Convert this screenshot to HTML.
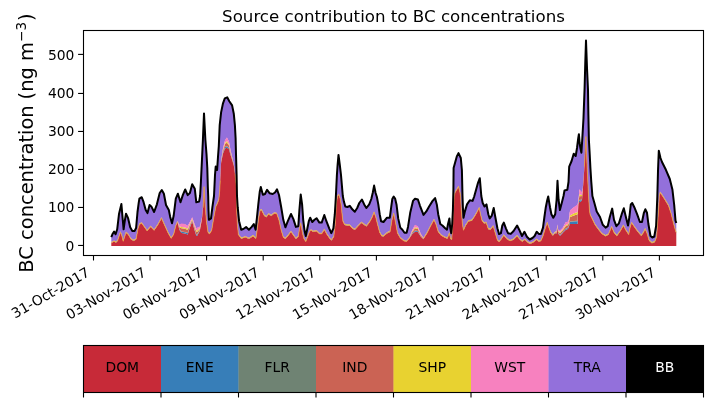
<!DOCTYPE html>
<html><head><meta charset="utf-8"><title>Source contribution to BC concentrations</title>
<style>
html,body{margin:0;padding:0;background:#fff;}
svg{display:block;}
text{font-family:"DejaVu Sans","Liberation Sans",sans-serif;fill:#000;}
.t10{font-size:13.89px;}
.t12{font-size:16.67px;}
.t14{font-size:19.44px;}
</style></head><body>
<svg width="713" height="402" viewBox="0 0 713 402">
<rect width="713" height="402" fill="#fff"/>
<polygon fill="#9370db" points="111.3,237.2 112.7,233.7 114.1,231.6 115.6,234.2 116.0,233.0 117.2,229.3 117.6,225.9 119.0,214.0 120.4,208.2 121.4,204.0 121.8,208.7 122.6,218.0 123.2,224.8 123.6,229.3 124.6,222.0 126.0,213.7 128.1,218.2 130.2,227.3 131.0,228.7 132.3,230.9 133.8,231.0 134.5,231.1 136.1,228.0 137.5,212.0 138.0,208.2 138.7,202.8 139.4,198.6 141.5,197.3 141.7,197.2 143.6,202.2 145.7,209.9 147.1,212.4 147.5,213.1 149.6,205.0 150.6,205.8 151.3,206.4 154.1,212.0 156.9,204.3 157.6,201.5 159.7,193.0 161.5,190.4 161.8,190.0 163.9,193.7 164.6,197.5 166.0,205.0 168.1,208.7 168.8,209.9 170.2,216.9 171.2,220.4 172.0,223.2 173.7,215.5 175.8,198.6 176.0,198.1 177.5,194.6 177.9,193.7 179.3,198.3 179.5,198.9 180.5,202.2 181.4,199.4 182.8,195.1 185.0,190.0 185.2,189.5 187.7,195.1 189.9,193.0 190.0,192.6 192.2,184.3 194.8,188.8 196.3,202.3 197.0,202.1 199.1,201.6 199.8,197.7 200.1,196.0 200.9,182.0 201.9,161.0 202.9,140.0 203.0,137.6 203.3,130.3 204.0,113.4 205.1,134.3 205.4,140.0 206.5,154.0 207.3,168.0 207.8,186.3 208.0,191.2 208.2,196.0 208.5,210.0 208.9,219.8 209.6,219.3 211.0,218.4 211.7,212.8 212.4,207.2 213.8,197.4 214.0,196.0 215.0,175.0 215.7,166.6 215.9,167.1 217.1,170.0 217.3,167.1 218.0,156.8 218.8,146.0 219.5,129.7 219.7,125.1 220.2,120.6 221.0,113.3 221.1,112.4 223.0,103.3 224.8,98.4 225.0,98.3 226.9,97.4 227.2,97.3 229.0,100.6 229.3,101.2 230.5,103.0 231.0,103.8 232.0,105.3 232.1,105.4 233.0,109.8 233.8,113.8 234.9,125.1 235.0,126.9 235.2,130.6 235.6,138.0 236.0,154.0 236.3,164.5 236.6,175.0 236.7,180.2 237.0,196.0 237.4,202.4 237.7,207.2 238.4,214.2 239.1,221.2 241.2,229.7 243.3,229.0 245.4,227.6 246.1,227.1 248.9,229.7 251.7,226.9 253.1,225.0 253.8,224.0 255.6,229.7 255.9,227.0 257.0,217.0 257.3,214.1 258.3,204.4 258.7,200.9 259.7,192.0 260.1,190.2 260.8,187.0 261.5,189.6 262.9,194.8 264.3,194.3 265.0,194.0 266.4,191.2 267.1,189.8 268.5,191.7 269.7,193.3 271.3,193.7 272.7,194.0 274.2,193.0 275.0,192.5 276.7,189.9 277.0,189.4 279.0,195.0 281.2,207.2 283.3,219.8 285.4,227.3 287.8,221.2 291.0,214.0 293.4,219.1 295.9,226.9 298.3,226.2 299.4,210.0 299.7,206.4 300.7,194.5 302.1,204.4 302.5,210.0 303.2,219.8 303.9,225.4 304.6,231.0 305.8,236.0 307.4,228.3 308.8,221.2 309.5,219.4 310.2,217.7 311.0,219.3 312.3,222.0 313.0,221.3 314.5,219.8 316.6,218.2 319.4,222.6 321.7,222.6 324.3,215.0 326.4,221.2 327.0,222.7 329.2,228.3 329.9,229.9 331.3,233.2 331.6,232.5 333.4,228.3 333.8,224.3 334.8,214.2 335.2,207.7 335.8,198.0 336.0,193.8 336.6,181.3 336.9,175.0 337.6,165.0 338.5,154.9 338.8,157.2 339.8,165.0 340.2,168.3 341.0,175.0 341.2,177.3 341.9,185.5 342.8,196.0 342.9,196.5 343.9,201.6 344.6,204.1 345.3,206.5 347.4,207.0 349.8,205.8 352.3,209.3 354.8,211.7 357.2,208.0 358.0,206.1 359.3,203.0 361.4,200.2 361.9,199.5 364.2,204.4 366.4,208.0 369.2,204.4 371.3,199.0 372.0,196.0 372.7,193.0 374.1,185.6 375.6,193.0 375.9,193.9 376.9,197.0 377.6,200.7 378.3,204.4 379.7,214.2 381.1,221.2 381.8,221.4 383.5,222.0 387.0,217.7 389.8,217.7 390.1,215.4 391.2,207.2 391.9,202.0 392.3,199.0 393.7,196.6 395.1,198.5 395.4,199.8 396.5,204.4 397.5,212.6 398.2,218.4 400.3,227.6 402.4,229.7 403.8,231.7 404.5,232.7 406.6,232.7 408.0,226.9 409.5,217.3 410.2,212.8 412.3,203.9 413.0,200.9 415.0,198.8 417.9,199.5 420.0,205.8 420.7,207.6 423.5,214.9 425.0,213.0 426.3,211.4 427.0,210.2 429.1,206.5 430.5,204.3 432.6,200.9 434.0,199.3 435.1,198.1 436.1,201.8 436.8,204.4 438.2,214.2 440.3,224.0 441.0,224.5 442.4,225.5 444.5,227.6 445.2,228.3 447.0,229.7 447.3,228.0 448.0,224.0 449.4,218.4 450.1,226.9 450.5,229.2 451.2,233.2 451.8,227.7 452.2,224.0 452.7,214.0 452.9,210.0 453.4,190.0 453.6,168.0 454.2,165.9 455.0,163.0 455.2,162.3 456.8,156.4 458.5,153.1 460.0,156.3 460.6,157.6 460.8,158.0 461.3,163.5 461.9,170.2 462.5,196.0 462.9,207.2 463.5,217.7 464.9,211.4 465.6,209.1 467.0,204.4 468.4,202.3 469.8,200.2 471.9,200.7 472.6,200.9 474.2,196.5 474.7,194.7 476.0,190.0 477.1,186.0 478.0,182.8 479.2,179.7 479.8,178.2 480.3,184.1 481.3,196.0 482.0,199.5 482.7,203.0 484.1,205.7 484.5,206.5 486.2,204.7 486.5,204.4 488.3,214.2 489.7,218.4 490.4,217.5 491.8,215.6 493.2,210.0 493.7,208.0 495.3,217.0 497.4,228.3 499.1,234.1 500.9,233.2 501.6,229.3 502.3,225.5 503.8,222.6 505.9,228.3 506.6,229.9 508.0,233.2 510.0,233.7 510.8,233.9 513.6,231.0 517.1,225.5 519.2,229.7 519.9,231.3 522.0,236.0 522.4,235.3 524.4,231.8 524.8,232.6 526.9,236.7 527.6,237.4 529.7,239.5 530.0,239.3 532.5,238.0 533.2,237.3 534.6,236.0 536.7,231.8 538.8,233.9 540.9,233.9 543.0,227.6 544.4,217.0 545.1,212.1 545.8,207.2 547.2,200.2 548.2,196.5 548.6,198.9 550.0,207.2 550.7,210.7 551.4,214.2 552.8,216.8 553.3,217.7 555.0,214.6 555.2,214.2 556.6,200.0 557.4,182.8 557.5,180.7 558.2,193.0 558.5,198.2 558.6,200.0 559.9,210.0 560.0,209.6 560.1,209.2 562.0,202.0 562.7,199.2 562.8,198.8 563.5,196.0 564.5,190.5 565.6,190.2 567.3,189.8 567.7,187.2 568.5,182.0 568.8,175.4 569.2,166.6 569.6,165.7 570.2,164.3 571.6,161.0 573.7,153.7 574.0,154.0 575.7,156.0 577.0,148.0 577.6,143.2 578.0,140.1 578.2,138.5 578.4,137.3 578.9,134.2 579.0,135.5 579.4,140.5 579.6,143.0 580.4,148.0 580.5,148.5 581.4,152.8 582.0,143.3 582.4,137.0 582.8,130.1 583.5,118.0 583.6,115.3 584.4,93.5 584.6,88.0 585.0,73.1 585.1,69.4 585.3,62.0 585.9,43.7 586.0,40.6 586.6,57.0 587.0,68.0 587.2,72.4 587.9,87.8 588.0,90.0 588.4,115.0 588.6,125.0 588.9,140.0 589.5,150.5 589.7,154.0 590.2,164.0 590.4,168.0 591.3,182.0 592.3,194.7 592.4,196.0 594.4,203.0 595.0,205.2 596.7,211.4 598.6,214.6 600.0,217.0 602.0,222.6 602.8,224.8 605.6,227.6 607.7,226.2 608.4,223.1 609.8,217.0 611.6,210.7 612.2,208.6 614.0,219.8 616.4,226.2 616.8,225.7 618.9,223.3 620.3,218.8 621.7,214.2 623.4,209.4 623.8,208.3 625.9,217.0 628.0,225.5 628.7,221.2 629.4,217.0 630.1,210.7 630.8,204.4 631.5,203.7 632.2,203.0 634.3,207.2 637.1,214.2 637.8,216.1 639.9,222.0 641.3,222.0 642.0,222.0 643.5,214.7 643.9,212.8 645.1,209.8 645.3,209.3 647.0,212.8 648.4,224.0 649.1,228.0 650.5,236.0 651.9,237.2 652.3,237.5 654.3,236.5 654.7,234.2 656.1,226.0 656.5,216.4 657.3,197.2 657.5,189.7 658.0,171.0 658.5,158.3 658.8,150.7 659.3,152.8 660.1,156.3 660.5,158.0 662.0,162.0 664.6,167.2 665.9,169.8 668.5,175.9 669.8,179.0 671.1,184.2 672.4,189.4 673.7,200.7 674.2,205.0 675.5,220.7 675.8,221.6 676.3,223.0 676.3,232.0 675.8,231.0 675.5,229.9 674.2,225.1 673.7,223.3 672.4,218.1 671.1,212.9 669.8,208.9 668.5,205.0 665.9,200.7 664.6,198.5 662.0,194.5 660.5,192.5 660.1,192.0 659.3,196.0 658.8,204.8 658.5,210.0 658.0,217.0 657.5,224.0 657.3,226.5 656.5,236.7 656.1,237.7 654.7,241.3 654.3,241.4 652.3,242.2 651.9,242.3 650.5,241.1 649.1,239.8 648.4,237.4 647.0,232.5 645.3,228.7 645.1,228.3 643.9,230.9 643.5,231.8 642.0,234.0 641.3,235.0 639.9,233.4 637.8,231.0 637.1,230.0 634.3,226.2 632.2,223.1 631.5,222.0 630.8,224.5 630.1,226.9 629.4,230.4 628.7,233.9 628.0,232.8 625.9,229.7 623.8,225.6 623.4,224.8 621.7,227.9 620.3,230.4 618.9,232.4 616.8,235.3 616.4,234.8 614.0,231.8 612.2,227.6 611.6,226.2 609.8,230.5 608.4,233.9 607.7,234.2 605.6,235.3 602.8,233.7 602.0,233.2 600.0,230.7 598.6,229.0 596.7,226.4 595.0,224.0 594.4,222.8 592.4,218.6 592.3,218.4 591.3,216.4 590.4,214.6 590.2,214.2 589.7,211.2 589.5,210.0 588.9,200.7 588.6,196.0 588.4,192.0 588.0,184.0 587.9,182.0 587.2,168.0 587.0,163.3 586.6,154.0 586.0,138.6 585.9,136.0 585.3,148.0 585.1,152.0 585.0,154.0 584.6,162.0 584.4,166.0 583.6,178.0 583.5,179.3 582.8,188.0 582.4,190.2 582.0,192.5 581.4,191.9 580.5,191.0 580.4,190.9 579.6,189.8 579.4,189.5 579.0,195.0 578.9,195.8 578.4,200.0 578.2,201.2 578.0,202.5 577.6,205.0 577.0,205.4 575.7,206.2 574.0,207.3 573.7,207.5 571.6,209.3 570.2,210.4 569.6,213.0 569.2,216.5 568.8,220.0 568.5,220.5 567.7,222.0 567.3,222.1 565.6,222.6 564.5,224.6 563.5,226.5 562.8,227.8 562.7,228.0 562.0,228.7 560.1,230.5 560.0,230.5 559.9,230.4 558.6,230.1 558.5,230.1 558.2,230.0 557.5,225.2 557.4,224.5 556.6,231.0 555.2,231.7 555.0,231.8 553.3,234.0 552.8,234.6 551.4,232.7 550.7,231.8 550.0,229.9 548.6,226.2 548.2,225.0 547.2,222.0 545.8,226.2 545.1,228.3 544.4,230.6 543.0,235.3 540.9,240.2 538.8,240.9 536.7,238.8 534.6,240.5 533.2,241.6 532.5,241.9 530.0,243.0 529.7,242.8 527.6,241.6 526.9,240.9 524.8,238.8 524.4,239.2 522.4,240.9 522.0,240.6 519.9,238.8 519.2,237.9 517.1,235.3 513.6,238.8 510.8,239.9 510.0,240.2 508.0,238.9 506.6,238.0 505.9,237.1 503.8,234.6 502.3,236.9 501.6,238.0 500.9,238.9 499.1,241.2 497.4,239.5 495.3,232.5 493.7,227.2 493.2,225.5 491.8,227.2 490.4,229.0 489.7,228.8 488.3,228.3 486.5,222.9 486.2,222.0 484.5,222.5 484.1,222.6 482.7,220.7 482.0,219.8 481.3,216.9 480.3,212.8 479.8,210.3 479.2,207.2 478.0,209.6 477.1,211.4 476.0,213.3 474.7,215.6 474.2,216.3 472.6,218.7 471.9,219.8 469.8,220.2 468.4,220.5 467.0,222.7 465.6,224.8 464.9,226.4 463.5,229.7 462.9,226.3 462.5,224.0 461.9,217.0 461.3,210.0 460.8,200.0 460.6,196.0 460.0,192.0 458.5,186.0 456.8,188.9 455.2,191.7 455.0,192.0 454.2,196.0 453.6,206.5 453.4,210.0 452.9,220.0 452.7,224.0 452.2,232.2 451.8,238.8 451.2,238.4 450.5,238.0 450.1,236.0 449.4,232.5 448.0,236.0 447.3,237.8 447.0,237.7 445.2,237.0 444.5,236.7 442.4,235.4 441.0,234.6 440.3,233.7 438.2,231.0 436.8,226.3 436.1,224.0 435.1,221.7 434.0,219.1 432.6,221.7 430.5,225.5 429.1,228.3 427.0,232.5 426.3,233.6 425.0,235.6 423.5,238.0 420.7,234.0 420.0,232.1 417.9,226.5 415.0,225.2 413.0,228.8 412.3,230.0 410.2,235.6 409.5,237.4 408.0,239.2 406.6,240.9 404.5,240.4 403.8,240.2 402.4,239.1 400.3,237.4 398.2,233.7 397.5,232.5 396.5,227.1 395.4,221.2 395.1,219.7 393.7,212.8 392.3,218.2 391.9,219.8 391.2,224.2 390.1,231.0 389.8,231.1 387.0,232.5 383.5,235.5 381.8,235.3 381.1,234.1 379.7,231.8 378.3,226.6 377.6,224.0 376.9,221.1 375.9,217.0 375.6,216.1 374.1,211.7 372.7,215.2 372.0,217.0 371.3,218.2 369.2,222.0 366.4,225.5 364.2,224.0 361.9,222.4 361.4,222.0 359.3,224.2 358.0,225.5 357.2,226.4 354.8,229.0 352.3,227.6 349.8,224.8 347.4,224.8 345.3,224.2 344.6,224.0 343.9,222.6 342.9,220.5 342.8,219.7 341.9,212.0 341.2,204.0 341.0,202.8 340.2,198.0 339.8,196.9 338.8,194.0 338.5,194.4 337.6,195.5 336.9,199.4 336.6,201.0 336.0,210.0 335.8,213.5 335.2,224.0 334.8,227.4 333.8,236.0 333.4,236.6 331.6,239.5 331.3,239.2 329.9,238.0 329.2,237.0 327.0,233.9 326.4,232.8 324.3,229.0 321.7,233.2 319.4,233.2 316.6,230.4 314.5,230.8 313.0,231.0 312.3,230.4 311.0,229.4 310.2,230.3 309.5,231.0 308.8,232.9 307.4,236.7 305.8,240.9 304.6,239.1 303.9,238.0 303.2,235.2 302.5,232.5 302.1,230.3 300.7,222.6 299.7,226.9 299.4,228.9 298.3,236.0 295.9,238.0 293.4,234.6 291.0,231.0 287.8,235.3 285.4,238.0 283.3,236.7 281.2,229.7 279.0,219.5 277.0,213.8 276.7,212.9 275.0,212.7 274.2,212.6 272.7,213.8 271.3,215.0 269.7,214.1 268.5,213.5 267.1,215.4 266.4,216.3 265.0,215.4 264.3,215.0 262.9,212.1 261.5,209.3 260.8,209.7 260.1,210.0 259.7,212.0 258.7,217.0 258.3,220.2 257.3,228.3 257.0,230.3 255.9,237.8 255.6,237.5 253.8,235.9 253.1,235.3 251.7,236.2 248.9,238.0 246.1,236.7 245.4,236.4 243.3,237.1 241.2,237.8 239.1,234.9 238.4,233.9 237.7,227.0 237.4,224.0 237.0,216.0 236.7,210.0 236.6,204.0 236.3,186.0 236.0,182.9 235.6,178.7 235.2,174.5 235.0,173.0 234.9,172.3 233.8,164.0 233.0,160.7 232.1,156.9 232.0,156.5 231.0,152.2 230.5,150.0 229.3,143.4 229.0,141.8 227.2,138.3 226.9,137.7 225.0,140.5 224.8,141.3 223.0,148.4 221.1,161.0 221.0,163.1 220.2,180.0 219.7,190.0 219.5,192.0 218.8,199.0 218.0,201.1 217.3,203.0 217.1,203.4 215.9,205.8 215.7,206.9 215.0,210.6 214.0,215.9 213.8,217.0 212.4,225.5 211.7,229.7 211.0,230.9 209.6,233.2 208.9,232.6 208.5,232.2 208.2,232.0 208.0,231.8 207.8,230.4 207.3,226.9 206.5,221.2 205.4,208.0 205.1,204.4 204.0,186.0 203.3,204.4 203.0,207.3 202.9,208.3 201.9,218.0 200.9,222.3 200.1,225.7 199.8,227.0 199.1,227.3 197.0,228.0 196.3,228.3 194.8,225.0 192.2,217.5 190.0,221.8 189.9,222.0 187.7,226.0 185.2,224.6 185.0,224.5 182.8,224.2 181.4,224.0 180.5,224.4 179.5,224.9 179.3,225.0 177.9,222.1 177.5,221.3 176.0,224.7 175.8,225.2 173.7,233.7 172.0,236.4 171.2,237.6 170.2,235.9 168.8,233.5 168.1,232.3 166.0,227.6 164.6,224.5 163.9,222.9 161.8,218.2 161.5,217.5 159.7,220.7 157.6,224.5 156.9,225.5 154.1,229.7 151.3,226.7 150.6,226.0 149.6,227.2 147.5,229.7 147.1,230.2 145.7,228.2 143.6,225.2 141.7,222.7 141.5,222.4 139.4,223.8 138.7,225.9 138.0,228.0 137.5,230.8 136.1,238.6 134.5,239.6 133.8,240.0 132.3,239.2 131.0,238.6 130.2,237.2 128.1,233.7 126.0,232.0 124.6,236.4 123.6,239.5 123.2,240.7 122.6,238.3 121.8,235.0 121.4,234.0 120.4,231.6 119.0,235.8 117.6,240.0 117.2,240.4 116.0,241.8 115.6,241.6 114.1,240.7 112.7,241.4 111.3,242.1"/>
<polygon fill="#c72a38" points="111.3,243.0 114.1,241.6 116.0,242.7 117.6,240.9 120.4,232.5 121.8,235.9 123.2,241.6 126.0,232.9 128.1,234.6 131.0,239.5 133.8,240.9 136.1,239.5 138.0,228.9 139.4,224.7 141.5,223.3 143.6,226.1 147.1,231.1 150.6,226.9 154.1,230.6 157.6,225.4 161.5,218.4 164.6,225.4 168.1,233.2 171.2,238.5 173.7,234.6 175.8,226.1 176.0,225.6 177.5,222.3 179.3,229.6 179.5,229.9 181.4,233.0 185.0,233.5 187.7,234.5 189.9,227.6 190.0,227.3 192.2,221.5 194.8,231.0 196.3,235.7 197.0,236.0 199.8,231.0 201.9,219.5 203.0,208.2 203.3,205.3 204.0,186.9 205.1,205.3 206.5,222.1 208.0,232.7 209.6,234.1 211.7,230.6 213.8,217.9 215.9,206.7 217.3,203.9 218.8,199.9 219.5,192.9 219.7,191.0 220.2,181.2 221.0,164.6 221.1,162.7 223.0,153.4 225.0,148.5 226.9,147.7 229.0,149.3 230.5,154.9 231.0,156.2 232.0,159.5 233.0,162.7 233.8,165.6 235.0,173.9 235.2,175.4 236.3,186.9 236.7,210.9 237.4,224.9 238.4,234.8 241.2,238.7 245.4,237.3 248.9,238.9 253.1,236.2 255.9,238.7 257.3,229.2 258.7,217.9 260.1,210.9 261.5,210.2 264.3,215.9 266.4,217.2 268.5,214.4 271.3,215.9 274.2,213.5 276.7,213.8 279.0,220.4 281.2,230.6 283.3,237.6 285.4,238.9 287.8,236.2 291.0,231.9 293.4,235.5 295.9,238.9 298.3,236.9 299.7,227.8 300.7,223.5 302.5,233.4 303.9,238.9 305.8,241.8 307.4,237.6 309.5,231.9 311.0,230.3 313.0,231.9 316.6,231.3 319.4,234.1 321.7,234.1 324.3,229.9 327.0,234.8 329.9,238.9 331.6,240.4 333.8,236.9 335.2,224.9 336.0,210.9 336.6,201.9 337.6,196.4 338.8,194.9 340.2,198.9 341.2,204.9 341.9,212.9 342.9,221.4 344.6,224.9 347.4,225.7 349.8,225.7 352.3,228.5 354.8,229.9 358.0,226.4 361.4,222.9 364.2,224.9 366.4,226.4 369.2,222.9 372.0,217.9 374.1,212.6 375.9,217.9 377.6,224.9 379.7,232.7 381.8,236.2 383.5,236.4 387.0,233.4 390.1,231.9 391.9,220.7 393.7,213.7 395.4,222.1 397.5,233.4 400.3,238.3 403.8,241.1 406.6,241.8 409.5,238.3 412.3,234.0 415.0,231.7 417.9,232.0 420.7,236.5 423.5,239.2 425.0,236.5 427.0,233.4 430.5,226.4 434.0,220.0 436.1,224.9 438.2,231.9 441.0,235.5 444.5,237.6 447.3,238.7 449.4,233.4 450.5,238.9 451.8,239.7 452.7,224.9 453.4,210.9 454.2,196.9 455.0,192.9 458.5,186.9 460.0,192.9 460.6,196.9 461.3,210.9 462.5,224.9 463.5,230.6 465.6,225.7 468.4,221.4 471.9,220.7 474.7,216.5 477.1,212.3 479.2,208.1 480.3,213.7 482.0,220.7 484.1,223.5 486.2,222.9 488.3,229.2 490.4,229.9 493.2,226.4 495.3,233.4 497.4,240.4 499.1,242.1 501.6,238.9 503.8,235.5 506.6,238.9 510.0,241.1 513.6,239.7 517.1,236.2 519.9,239.7 522.4,241.8 524.8,239.7 527.6,242.5 530.0,243.9 533.2,242.5 536.7,239.7 538.8,241.8 540.9,241.1 543.0,236.2 545.1,229.2 547.2,222.9 548.6,227.1 550.0,230.8 550.7,232.8 552.8,235.8 555.0,233.3 556.6,233.6 557.4,227.7 558.2,233.8 558.5,234.1 560.0,235.7 560.1,235.7 562.7,233.0 562.8,232.8 565.6,230.1 567.7,229.0 568.8,227.5 569.6,224.0 570.2,224.1 574.0,224.1 577.6,224.1 578.0,211.5 578.4,204.0 579.0,202.5 579.4,202.0 580.5,202.0 582.0,200.0 582.8,190.0 583.6,179.3 584.4,167.2 585.0,155.2 585.1,153.2 585.9,137.0 586.0,139.6 586.6,154.9 587.0,164.2 587.2,168.9 587.9,182.9 588.6,196.9 589.5,210.9 590.2,215.1 592.3,219.3 595.0,224.9 598.6,229.9 602.0,234.1 605.6,236.2 608.4,234.8 611.6,227.1 614.0,232.7 616.8,236.2 620.3,231.3 623.4,225.7 625.9,230.6 628.7,234.8 630.1,227.8 631.5,222.9 634.3,227.1 637.8,231.9 641.3,235.9 643.5,232.7 645.1,229.2 647.0,233.4 649.1,240.7 651.9,243.2 654.7,242.2 656.5,237.6 657.5,224.9 658.5,210.9 659.3,196.9 660.1,192.9 662.0,195.4 664.6,199.4 668.5,205.9 671.1,213.8 673.7,224.2 675.8,231.9 676.3,232.9 676.3,246.0 111.3,246.0"/>
<polygon fill="#377eb8" points="111.3,242.9 114.1,241.5 116.0,242.6 117.6,240.8 120.4,232.4 121.8,235.8 123.2,241.5 126.0,232.8 128.1,234.5 131.0,239.4 133.8,240.8 136.1,239.4 138.0,228.8 139.4,224.6 141.5,223.2 143.6,226.0 147.1,231.0 150.6,226.8 154.1,230.5 157.6,225.3 161.5,218.3 164.6,225.3 168.1,233.1 171.2,238.4 173.7,234.5 175.8,226.0 176.0,225.5 177.5,222.2 179.3,228.9 179.5,229.2 181.4,231.7 185.0,232.2 187.7,233.3 189.9,226.8 190.0,226.5 192.2,220.9 194.8,230.1 196.3,234.6 197.0,234.9 199.8,230.4 201.9,219.3 203.0,208.1 203.3,205.2 204.0,186.8 205.1,205.2 206.5,222.0 208.0,232.6 209.6,234.0 211.7,230.5 213.8,217.8 215.9,206.6 217.3,203.8 218.8,199.8 219.5,192.8 219.7,190.9 220.2,181.0 221.0,164.4 221.1,162.5 223.0,152.7 225.0,147.3 226.9,146.2 229.0,148.2 230.5,154.2 231.0,155.6 232.0,159.1 233.0,162.4 233.8,165.4 235.0,173.8 235.2,175.3 236.3,186.8 236.7,210.8 237.4,224.8 238.4,234.7 241.2,238.6 245.4,237.2 248.9,238.8 253.1,236.1 255.9,238.6 257.3,229.1 258.7,217.8 260.1,210.8 261.5,210.1 264.3,215.8 266.4,217.1 268.5,214.3 271.3,215.8 274.2,213.4 276.7,213.7 279.0,220.3 281.2,230.5 283.3,237.5 285.4,238.8 287.8,236.1 291.0,231.8 293.4,235.4 295.9,238.8 298.3,236.8 299.7,227.7 300.7,223.4 302.5,233.3 303.9,238.8 305.8,241.7 307.4,237.5 309.5,231.8 311.0,230.2 313.0,231.8 316.6,231.2 319.4,234.0 321.7,234.0 324.3,229.8 327.0,234.7 329.9,238.8 331.6,240.3 333.8,236.8 335.2,224.8 336.0,210.8 336.6,201.8 337.6,196.3 338.8,194.8 340.2,198.8 341.2,204.8 341.9,212.8 342.9,221.3 344.6,224.8 347.4,225.6 349.8,225.6 352.3,228.4 354.8,229.8 358.0,226.3 361.4,222.8 364.2,224.8 366.4,226.3 369.2,222.8 372.0,217.8 374.1,212.5 375.9,217.8 377.6,224.8 379.7,232.6 381.8,236.1 383.5,236.3 387.0,233.3 390.1,231.8 391.9,220.6 393.7,213.6 395.4,222.0 397.5,233.3 400.3,238.2 403.8,241.0 406.6,241.7 409.5,238.2 412.3,233.4 415.0,230.8 417.9,231.2 420.7,236.2 423.5,239.1 425.0,236.4 427.0,233.3 430.5,226.3 434.0,219.9 436.1,224.8 438.2,231.8 441.0,235.4 444.5,237.5 447.3,238.6 449.4,233.3 450.5,238.8 451.8,239.6 452.7,224.8 453.4,210.8 454.2,196.8 455.0,192.8 458.5,186.8 460.0,192.8 460.6,196.8 461.3,210.8 462.5,224.8 463.5,230.5 465.6,225.6 468.4,221.3 471.9,220.6 474.7,216.4 477.1,212.2 479.2,208.0 480.3,213.6 482.0,220.6 484.1,223.4 486.2,222.8 488.3,229.1 490.4,229.8 493.2,226.3 495.3,233.3 497.4,240.3 499.1,242.0 501.6,238.8 503.8,235.4 506.6,238.8 510.0,241.0 513.6,239.6 517.1,236.1 519.9,239.6 522.4,241.7 524.8,239.6 527.6,242.4 530.0,243.8 533.2,242.4 536.7,239.6 538.8,241.7 540.9,241.0 543.0,236.1 545.1,229.1 547.2,222.8 548.6,227.0 550.0,230.7 550.7,232.7 552.8,235.7 555.0,233.1 556.6,233.3 557.4,227.3 558.2,233.3 558.5,233.5 560.0,234.9 560.1,234.9 562.7,232.3 562.8,232.1 565.6,229.0 567.7,228.0 568.8,226.4 569.6,222.4 570.2,222.1 574.0,221.6 577.6,221.3 578.0,210.2 578.4,203.4 579.0,201.4 579.4,200.2 580.5,200.4 582.0,198.9 582.8,189.7 583.6,179.1 584.4,167.1 585.0,155.1 585.1,153.0 585.9,136.9 586.0,139.5 586.6,154.8 587.0,164.1 587.2,168.8 587.9,182.8 588.6,196.8 589.5,210.8 590.2,215.0 592.3,219.2 595.0,224.8 598.6,229.8 602.0,234.0 605.6,236.1 608.4,234.7 611.6,227.0 614.0,232.6 616.8,236.1 620.3,231.2 623.4,225.6 625.9,230.5 628.7,234.7 630.1,227.7 631.5,222.8 634.3,227.0 637.8,231.8 641.3,235.8 643.5,232.6 645.1,229.1 647.0,233.3 649.1,240.6 651.9,243.1 654.7,242.1 656.5,237.5 657.5,224.8 658.5,210.8 659.3,196.8 660.1,192.8 662.0,195.3 664.6,199.3 668.5,205.8 671.1,213.7 673.7,224.1 675.8,231.8 676.3,232.8 676.3,232.9 675.8,231.9 673.7,224.2 671.1,213.8 668.5,205.9 664.6,199.4 662.0,195.4 660.1,192.9 659.3,196.9 658.5,210.9 657.5,224.9 656.5,237.6 654.7,242.2 651.9,243.2 649.1,240.7 647.0,233.4 645.1,229.2 643.5,232.7 641.3,235.9 637.8,231.9 634.3,227.1 631.5,222.9 630.1,227.8 628.7,234.8 625.9,230.6 623.4,225.7 620.3,231.3 616.8,236.2 614.0,232.7 611.6,227.1 608.4,234.8 605.6,236.2 602.0,234.1 598.6,229.9 595.0,224.9 592.3,219.3 590.2,215.1 589.5,210.9 588.6,196.9 587.9,182.9 587.2,168.9 587.0,164.2 586.6,154.9 586.0,139.6 585.9,137.0 585.1,153.2 585.0,155.2 584.4,167.2 583.6,179.3 582.8,190.0 582.0,200.0 580.5,202.0 579.4,202.0 579.0,202.5 578.4,204.0 578.0,211.5 577.6,224.1 574.0,224.1 570.2,224.1 569.6,224.0 568.8,227.5 567.7,229.0 565.6,230.1 562.8,232.8 562.7,233.0 560.1,235.7 560.0,235.7 558.5,234.1 558.2,233.8 557.4,227.7 556.6,233.6 555.0,233.3 552.8,235.8 550.7,232.8 550.0,230.8 548.6,227.1 547.2,222.9 545.1,229.2 543.0,236.2 540.9,241.1 538.8,241.8 536.7,239.7 533.2,242.5 530.0,243.9 527.6,242.5 524.8,239.7 522.4,241.8 519.9,239.7 517.1,236.2 513.6,239.7 510.0,241.1 506.6,238.9 503.8,235.5 501.6,238.9 499.1,242.1 497.4,240.4 495.3,233.4 493.2,226.4 490.4,229.9 488.3,229.2 486.2,222.9 484.1,223.5 482.0,220.7 480.3,213.7 479.2,208.1 477.1,212.3 474.7,216.5 471.9,220.7 468.4,221.4 465.6,225.7 463.5,230.6 462.5,224.9 461.3,210.9 460.6,196.9 460.0,192.9 458.5,186.9 455.0,192.9 454.2,196.9 453.4,210.9 452.7,224.9 451.8,239.7 450.5,238.9 449.4,233.4 447.3,238.7 444.5,237.6 441.0,235.5 438.2,231.9 436.1,224.9 434.0,220.0 430.5,226.4 427.0,233.4 425.0,236.5 423.5,239.2 420.7,236.5 417.9,232.0 415.0,231.7 412.3,234.0 409.5,238.3 406.6,241.8 403.8,241.1 400.3,238.3 397.5,233.4 395.4,222.1 393.7,213.7 391.9,220.7 390.1,231.9 387.0,233.4 383.5,236.4 381.8,236.2 379.7,232.7 377.6,224.9 375.9,217.9 374.1,212.6 372.0,217.9 369.2,222.9 366.4,226.4 364.2,224.9 361.4,222.9 358.0,226.4 354.8,229.9 352.3,228.5 349.8,225.7 347.4,225.7 344.6,224.9 342.9,221.4 341.9,212.9 341.2,204.9 340.2,198.9 338.8,194.9 337.6,196.4 336.6,201.9 336.0,210.9 335.2,224.9 333.8,236.9 331.6,240.4 329.9,238.9 327.0,234.8 324.3,229.9 321.7,234.1 319.4,234.1 316.6,231.3 313.0,231.9 311.0,230.3 309.5,231.9 307.4,237.6 305.8,241.8 303.9,238.9 302.5,233.4 300.7,223.5 299.7,227.8 298.3,236.9 295.9,238.9 293.4,235.5 291.0,231.9 287.8,236.2 285.4,238.9 283.3,237.6 281.2,230.6 279.0,220.4 276.7,213.8 274.2,213.5 271.3,215.9 268.5,214.4 266.4,217.2 264.3,215.9 261.5,210.2 260.1,210.9 258.7,217.9 257.3,229.2 255.9,238.7 253.1,236.2 248.9,238.9 245.4,237.3 241.2,238.7 238.4,234.8 237.4,224.9 236.7,210.9 236.3,186.9 235.2,175.4 235.0,173.9 233.8,165.6 233.0,162.7 232.0,159.5 231.0,156.2 230.5,154.9 229.0,149.3 226.9,147.7 225.0,148.5 223.0,153.4 221.1,162.7 221.0,164.6 220.2,181.2 219.7,191.0 219.5,192.9 218.8,199.9 217.3,203.9 215.9,206.7 213.8,217.9 211.7,230.6 209.6,234.1 208.0,232.7 206.5,222.1 205.1,205.3 204.0,186.9 203.3,205.3 203.0,208.2 201.9,219.5 199.8,231.0 197.0,236.0 196.3,235.7 194.8,231.0 192.2,221.5 190.0,227.3 189.9,227.6 187.7,234.5 185.0,233.5 181.4,233.0 179.5,229.9 179.3,229.6 177.5,222.3 176.0,225.6 175.8,226.1 173.7,234.6 171.2,238.5 168.1,233.2 164.6,225.4 161.5,218.4 157.6,225.4 154.1,230.6 150.6,226.9 147.1,231.1 143.6,226.1 141.5,223.3 139.4,224.7 138.0,228.9 136.1,239.5 133.8,240.9 131.0,239.5 128.1,234.6 126.0,232.9 123.2,241.6 121.8,235.9 120.4,232.5 117.6,240.9 116.0,242.7 114.1,241.6 111.3,243.0"/>
<polygon fill="#6f8373" points="111.3,242.8 114.1,241.4 116.0,242.6 117.6,240.8 120.4,232.3 121.8,235.8 123.2,241.4 126.0,232.8 128.1,234.4 131.0,239.3 133.8,240.8 136.1,239.3 138.0,228.8 139.4,224.6 141.5,223.2 143.6,225.9 147.1,230.9 150.6,226.8 154.1,230.4 157.6,225.2 161.5,218.2 164.6,225.2 168.1,233.1 171.2,238.3 173.7,234.4 175.8,225.9 176.0,225.5 177.5,222.1 179.3,228.8 179.5,229.0 181.4,231.4 185.0,231.9 187.7,233.0 189.9,226.6 190.0,226.3 192.2,220.8 194.8,229.9 196.3,234.4 197.0,234.6 199.8,230.3 201.9,219.2 203.0,208.1 203.3,205.2 204.0,186.8 205.1,205.2 206.5,221.9 208.0,232.6 209.6,233.9 211.7,230.4 213.8,217.8 215.9,206.6 217.3,203.8 218.8,199.8 219.5,192.7 219.7,190.8 220.2,181.0 221.0,164.4 221.1,162.4 223.0,152.5 225.0,147.1 226.9,145.9 229.0,148.0 230.5,154.0 231.0,155.5 232.0,159.0 233.0,162.3 233.8,165.3 235.0,173.8 235.2,175.2 236.3,186.8 236.7,210.8 237.4,224.8 238.4,234.7 241.2,238.6 245.4,237.2 248.9,238.8 253.1,236.1 255.9,238.6 257.3,229.1 258.7,217.8 260.1,210.8 261.5,210.1 264.3,215.8 266.4,217.1 268.5,214.2 271.3,215.8 274.2,213.3 276.7,213.7 279.0,220.2 281.2,230.4 283.3,237.4 285.4,238.8 287.8,236.1 291.0,231.8 293.4,235.3 295.9,238.8 298.3,236.8 299.7,227.7 300.7,223.3 302.5,233.2 303.9,238.8 305.8,241.7 307.4,237.4 309.5,231.8 311.0,230.2 313.0,231.8 316.6,231.2 319.4,233.9 321.7,233.9 324.3,229.8 327.0,234.7 329.9,238.8 331.6,240.2 333.8,236.8 335.2,224.8 336.0,210.8 336.6,201.8 337.6,196.2 338.8,194.8 340.2,198.8 341.2,204.8 341.9,212.8 342.9,221.2 344.6,224.8 347.4,225.6 349.8,225.6 352.3,228.3 354.8,229.8 358.0,226.2 361.4,222.8 364.2,224.8 366.4,226.2 369.2,222.8 372.0,217.8 374.1,212.4 375.9,217.8 377.6,224.8 379.7,232.6 381.8,236.1 383.5,236.2 387.0,233.2 390.1,231.8 391.9,220.6 393.7,213.6 395.4,221.9 397.5,233.2 400.3,238.2 403.8,240.9 406.6,241.7 409.5,238.2 412.3,233.3 415.0,230.5 417.9,231.0 420.7,236.1 423.5,239.0 425.0,236.4 427.0,233.2 430.5,226.2 434.0,219.8 436.1,224.8 438.2,231.8 441.0,235.3 444.5,237.4 447.3,238.6 449.4,233.2 450.5,238.8 451.8,239.6 452.7,224.8 453.4,210.8 454.2,196.8 455.0,192.8 458.5,186.8 460.0,192.8 460.6,196.8 461.3,210.8 462.5,224.8 463.5,230.4 465.6,225.6 468.4,221.2 471.9,220.6 474.7,216.3 477.1,212.2 479.2,207.9 480.3,213.6 482.0,220.6 484.1,223.3 486.2,222.8 488.3,229.1 490.4,229.8 493.2,226.2 495.3,233.2 497.4,240.2 499.1,241.9 501.6,238.8 503.8,235.3 506.6,238.8 510.0,240.9 513.6,239.6 517.1,236.1 519.9,239.6 522.4,241.7 524.8,239.6 527.6,242.3 530.0,243.8 533.2,242.3 536.7,239.6 538.8,241.7 540.9,240.9 543.0,236.1 545.1,229.1 547.2,222.8 548.6,226.9 550.0,230.7 550.7,232.6 552.8,235.6 555.0,233.0 556.6,233.2 557.4,227.1 558.2,233.1 558.5,233.4 560.0,234.7 560.1,234.8 562.7,232.1 562.8,231.9 565.6,228.8 567.7,227.8 568.8,226.2 569.6,222.0 570.2,221.6 574.0,221.1 577.6,220.7 578.0,209.9 578.4,203.3 579.0,201.2 579.4,199.8 580.5,200.0 582.0,198.7 582.8,189.7 583.6,179.1 584.4,167.0 585.0,155.0 585.1,153.0 585.9,136.8 586.0,139.4 586.6,154.8 587.0,164.1 587.2,168.8 587.9,182.8 588.6,196.8 589.5,210.8 590.2,214.9 592.3,219.2 595.0,224.8 598.6,229.8 602.0,233.9 605.6,236.1 608.4,234.7 611.6,226.9 614.0,232.6 616.8,236.1 620.3,231.2 623.4,225.6 625.9,230.4 628.7,234.7 630.1,227.7 631.5,222.8 634.3,226.9 637.8,231.8 641.3,235.8 643.5,232.6 645.1,229.1 647.0,233.2 649.1,240.6 651.9,243.1 654.7,242.1 656.5,237.4 657.5,224.8 658.5,210.8 659.3,196.8 660.1,192.8 662.0,195.2 664.6,199.2 668.5,205.8 671.1,213.7 673.7,224.1 675.8,231.8 676.3,232.8 676.3,232.8 675.8,231.8 673.7,224.1 671.1,213.7 668.5,205.8 664.6,199.3 662.0,195.3 660.1,192.8 659.3,196.8 658.5,210.8 657.5,224.8 656.5,237.5 654.7,242.1 651.9,243.1 649.1,240.6 647.0,233.3 645.1,229.1 643.5,232.6 641.3,235.8 637.8,231.8 634.3,227.0 631.5,222.8 630.1,227.7 628.7,234.7 625.9,230.5 623.4,225.6 620.3,231.2 616.8,236.1 614.0,232.6 611.6,227.0 608.4,234.7 605.6,236.1 602.0,234.0 598.6,229.8 595.0,224.8 592.3,219.2 590.2,215.0 589.5,210.8 588.6,196.8 587.9,182.8 587.2,168.8 587.0,164.1 586.6,154.8 586.0,139.5 585.9,136.9 585.1,153.0 585.0,155.1 584.4,167.1 583.6,179.1 582.8,189.7 582.0,198.9 580.5,200.4 579.4,200.2 579.0,201.4 578.4,203.4 578.0,210.2 577.6,221.3 574.0,221.6 570.2,222.1 569.6,222.4 568.8,226.4 567.7,228.0 565.6,229.0 562.8,232.1 562.7,232.3 560.1,234.9 560.0,234.9 558.5,233.5 558.2,233.3 557.4,227.3 556.6,233.3 555.0,233.1 552.8,235.7 550.7,232.7 550.0,230.7 548.6,227.0 547.2,222.8 545.1,229.1 543.0,236.1 540.9,241.0 538.8,241.7 536.7,239.6 533.2,242.4 530.0,243.8 527.6,242.4 524.8,239.6 522.4,241.7 519.9,239.6 517.1,236.1 513.6,239.6 510.0,241.0 506.6,238.8 503.8,235.4 501.6,238.8 499.1,242.0 497.4,240.3 495.3,233.3 493.2,226.3 490.4,229.8 488.3,229.1 486.2,222.8 484.1,223.4 482.0,220.6 480.3,213.6 479.2,208.0 477.1,212.2 474.7,216.4 471.9,220.6 468.4,221.3 465.6,225.6 463.5,230.5 462.5,224.8 461.3,210.8 460.6,196.8 460.0,192.8 458.5,186.8 455.0,192.8 454.2,196.8 453.4,210.8 452.7,224.8 451.8,239.6 450.5,238.8 449.4,233.3 447.3,238.6 444.5,237.5 441.0,235.4 438.2,231.8 436.1,224.8 434.0,219.9 430.5,226.3 427.0,233.3 425.0,236.4 423.5,239.1 420.7,236.2 417.9,231.2 415.0,230.8 412.3,233.4 409.5,238.2 406.6,241.7 403.8,241.0 400.3,238.2 397.5,233.3 395.4,222.0 393.7,213.6 391.9,220.6 390.1,231.8 387.0,233.3 383.5,236.3 381.8,236.1 379.7,232.6 377.6,224.8 375.9,217.8 374.1,212.5 372.0,217.8 369.2,222.8 366.4,226.3 364.2,224.8 361.4,222.8 358.0,226.3 354.8,229.8 352.3,228.4 349.8,225.6 347.4,225.6 344.6,224.8 342.9,221.3 341.9,212.8 341.2,204.8 340.2,198.8 338.8,194.8 337.6,196.3 336.6,201.8 336.0,210.8 335.2,224.8 333.8,236.8 331.6,240.3 329.9,238.8 327.0,234.7 324.3,229.8 321.7,234.0 319.4,234.0 316.6,231.2 313.0,231.8 311.0,230.2 309.5,231.8 307.4,237.5 305.8,241.7 303.9,238.8 302.5,233.3 300.7,223.4 299.7,227.7 298.3,236.8 295.9,238.8 293.4,235.4 291.0,231.8 287.8,236.1 285.4,238.8 283.3,237.5 281.2,230.5 279.0,220.3 276.7,213.7 274.2,213.4 271.3,215.8 268.5,214.3 266.4,217.1 264.3,215.8 261.5,210.1 260.1,210.8 258.7,217.8 257.3,229.1 255.9,238.6 253.1,236.1 248.9,238.8 245.4,237.2 241.2,238.6 238.4,234.7 237.4,224.8 236.7,210.8 236.3,186.8 235.2,175.3 235.0,173.8 233.8,165.4 233.0,162.4 232.0,159.1 231.0,155.6 230.5,154.2 229.0,148.2 226.9,146.2 225.0,147.3 223.0,152.7 221.1,162.5 221.0,164.4 220.2,181.0 219.7,190.9 219.5,192.8 218.8,199.8 217.3,203.8 215.9,206.6 213.8,217.8 211.7,230.5 209.6,234.0 208.0,232.6 206.5,222.0 205.1,205.2 204.0,186.8 203.3,205.2 203.0,208.1 201.9,219.3 199.8,230.4 197.0,234.9 196.3,234.6 194.8,230.1 192.2,220.9 190.0,226.5 189.9,226.8 187.7,233.3 185.0,232.2 181.4,231.7 179.5,229.2 179.3,228.9 177.5,222.2 176.0,225.5 175.8,226.0 173.7,234.5 171.2,238.4 168.1,233.1 164.6,225.3 161.5,218.3 157.6,225.3 154.1,230.5 150.6,226.8 147.1,231.0 143.6,226.0 141.5,223.2 139.4,224.6 138.0,228.8 136.1,239.4 133.8,240.8 131.0,239.4 128.1,234.5 126.0,232.8 123.2,241.5 121.8,235.8 120.4,232.4 117.6,240.8 116.0,242.6 114.1,241.5 111.3,242.9"/>
<polygon fill="#cb6354" points="111.3,242.4 114.1,241.0 116.0,242.2 117.6,240.3 120.4,231.9 121.8,235.3 123.2,241.0 126.0,232.3 128.1,234.0 131.0,238.9 133.8,240.3 136.1,238.9 138.0,228.3 139.4,224.2 141.5,222.8 143.6,225.5 147.1,230.5 150.6,226.3 154.1,230.0 157.6,224.8 161.5,217.8 164.6,224.8 168.1,232.7 171.2,237.9 173.7,234.0 175.8,225.5 176.0,225.1 177.5,221.7 179.3,227.2 179.5,227.3 181.4,228.3 185.0,228.8 187.7,230.1 189.9,224.7 190.0,224.4 192.2,219.4 194.8,227.8 196.3,231.8 197.0,231.9 199.8,228.9 201.9,218.6 203.0,207.7 203.3,204.8 204.0,186.3 205.1,204.8 206.5,221.5 208.0,232.2 209.6,233.5 211.7,230.0 213.8,217.3 215.9,206.2 217.3,203.3 218.8,199.3 219.5,192.3 219.7,190.4 220.2,180.5 221.0,163.8 221.1,161.7 223.0,150.8 225.0,144.3 226.9,142.5 229.0,145.4 230.5,152.3 231.0,154.0 232.0,157.9 233.0,161.6 233.8,164.7 235.0,173.4 235.2,174.8 236.3,186.3 236.7,210.3 237.4,224.3 238.4,234.2 241.2,238.2 245.4,236.8 248.9,238.3 253.1,235.7 255.9,238.2 257.3,228.7 258.7,217.3 260.1,210.3 261.5,209.7 264.3,215.3 266.4,216.7 268.5,213.8 271.3,215.3 274.2,212.9 276.7,213.2 279.0,219.8 281.2,230.0 283.3,237.0 285.4,238.3 287.8,235.7 291.0,231.3 293.4,234.9 295.9,238.3 298.3,236.3 299.7,227.2 300.7,222.9 302.5,232.8 303.9,238.3 305.8,241.2 307.4,237.0 309.5,231.3 311.0,229.8 313.0,231.3 316.6,230.8 319.4,233.5 321.7,233.5 324.3,229.3 327.0,234.2 329.9,238.3 331.6,239.8 333.8,236.3 335.2,224.3 336.0,210.3 336.6,201.3 337.6,195.8 338.8,194.3 340.2,198.3 341.2,204.3 341.9,212.3 342.9,220.8 344.6,224.3 347.4,225.2 349.8,225.2 352.3,227.9 354.8,229.3 358.0,225.8 361.4,222.3 364.2,224.3 366.4,225.8 369.2,222.3 372.0,217.3 374.1,212.0 375.9,217.3 377.6,224.3 379.7,232.2 381.8,235.7 383.5,235.8 387.0,232.8 390.1,231.3 391.9,220.2 393.7,213.2 395.4,221.5 397.5,232.8 400.3,237.8 403.8,240.5 406.6,241.2 409.5,237.8 412.3,231.9 415.0,228.3 417.9,229.1 420.7,235.1 423.5,238.5 425.0,236.0 427.0,232.8 430.5,225.8 434.0,219.4 436.1,224.3 438.2,231.3 441.0,234.9 444.5,237.0 447.3,238.2 449.4,232.8 450.5,238.3 451.8,239.2 452.7,224.3 453.4,210.3 454.2,196.3 455.0,192.3 458.5,186.3 460.0,192.3 460.6,196.3 461.3,210.3 462.5,224.3 463.5,230.0 465.6,225.2 468.4,220.8 471.9,220.2 474.7,215.9 477.1,211.8 479.2,207.5 480.3,213.2 482.0,220.2 484.1,222.9 486.2,222.3 488.3,228.7 490.4,229.3 493.2,225.8 495.3,232.8 497.4,239.8 499.1,241.5 501.6,238.3 503.8,234.9 506.6,238.3 510.0,240.5 513.6,239.2 517.1,235.7 519.9,239.2 522.4,241.2 524.8,239.2 527.6,241.9 530.0,243.3 533.2,241.9 536.7,239.2 538.8,241.2 540.9,240.5 543.0,235.7 545.1,228.7 547.2,222.3 548.6,226.5 550.0,230.3 550.7,232.2 552.8,235.1 555.0,232.4 556.6,232.2 557.4,226.0 558.2,231.8 558.5,231.9 560.0,232.9 560.1,233.0 562.7,230.4 562.8,230.2 565.6,226.2 567.7,225.3 568.8,223.6 569.6,218.3 570.2,217.0 574.0,215.4 577.6,214.3 578.0,206.8 578.4,201.9 579.0,198.6 579.4,195.5 580.5,196.3 582.0,196.1 582.8,188.9 583.6,178.5 584.4,166.5 585.0,154.5 585.1,152.5 585.9,136.4 586.0,139.0 586.6,154.4 587.0,163.7 587.2,168.3 587.9,182.3 588.6,196.3 589.5,210.3 590.2,214.5 592.3,218.8 595.0,224.3 598.6,229.3 602.0,233.5 605.6,235.7 608.4,234.2 611.6,226.5 614.0,232.2 616.8,235.7 620.3,230.8 623.4,225.2 625.9,230.0 628.7,234.2 630.1,227.2 631.5,222.3 634.3,226.5 637.8,231.3 641.3,235.3 643.5,232.2 645.1,228.7 647.0,232.8 649.1,240.2 651.9,242.7 654.7,241.7 656.5,237.0 657.5,224.3 658.5,210.3 659.3,196.3 660.1,192.3 662.0,194.8 664.6,198.8 668.5,205.3 671.1,213.2 673.7,223.7 675.8,231.3 676.3,232.3 676.3,232.8 675.8,231.8 673.7,224.1 671.1,213.7 668.5,205.8 664.6,199.2 662.0,195.2 660.1,192.8 659.3,196.8 658.5,210.8 657.5,224.8 656.5,237.4 654.7,242.1 651.9,243.1 649.1,240.6 647.0,233.2 645.1,229.1 643.5,232.6 641.3,235.8 637.8,231.8 634.3,226.9 631.5,222.8 630.1,227.7 628.7,234.7 625.9,230.4 623.4,225.6 620.3,231.2 616.8,236.1 614.0,232.6 611.6,226.9 608.4,234.7 605.6,236.1 602.0,233.9 598.6,229.8 595.0,224.8 592.3,219.2 590.2,214.9 589.5,210.8 588.6,196.8 587.9,182.8 587.2,168.8 587.0,164.1 586.6,154.8 586.0,139.4 585.9,136.8 585.1,153.0 585.0,155.0 584.4,167.0 583.6,179.1 582.8,189.7 582.0,198.7 580.5,200.0 579.4,199.8 579.0,201.2 578.4,203.3 578.0,209.9 577.6,220.7 574.0,221.1 570.2,221.6 569.6,222.0 568.8,226.2 567.7,227.8 565.6,228.8 562.8,231.9 562.7,232.1 560.1,234.8 560.0,234.7 558.5,233.4 558.2,233.1 557.4,227.1 556.6,233.2 555.0,233.0 552.8,235.6 550.7,232.6 550.0,230.7 548.6,226.9 547.2,222.8 545.1,229.1 543.0,236.1 540.9,240.9 538.8,241.7 536.7,239.6 533.2,242.3 530.0,243.8 527.6,242.3 524.8,239.6 522.4,241.7 519.9,239.6 517.1,236.1 513.6,239.6 510.0,240.9 506.6,238.8 503.8,235.3 501.6,238.8 499.1,241.9 497.4,240.2 495.3,233.2 493.2,226.2 490.4,229.8 488.3,229.1 486.2,222.8 484.1,223.3 482.0,220.6 480.3,213.6 479.2,207.9 477.1,212.2 474.7,216.3 471.9,220.6 468.4,221.2 465.6,225.6 463.5,230.4 462.5,224.8 461.3,210.8 460.6,196.8 460.0,192.8 458.5,186.8 455.0,192.8 454.2,196.8 453.4,210.8 452.7,224.8 451.8,239.6 450.5,238.8 449.4,233.2 447.3,238.6 444.5,237.4 441.0,235.3 438.2,231.8 436.1,224.8 434.0,219.8 430.5,226.2 427.0,233.2 425.0,236.4 423.5,239.0 420.7,236.1 417.9,231.0 415.0,230.5 412.3,233.3 409.5,238.2 406.6,241.7 403.8,240.9 400.3,238.2 397.5,233.2 395.4,221.9 393.7,213.6 391.9,220.6 390.1,231.8 387.0,233.2 383.5,236.2 381.8,236.1 379.7,232.6 377.6,224.8 375.9,217.8 374.1,212.4 372.0,217.8 369.2,222.8 366.4,226.2 364.2,224.8 361.4,222.8 358.0,226.2 354.8,229.8 352.3,228.3 349.8,225.6 347.4,225.6 344.6,224.8 342.9,221.2 341.9,212.8 341.2,204.8 340.2,198.8 338.8,194.8 337.6,196.2 336.6,201.8 336.0,210.8 335.2,224.8 333.8,236.8 331.6,240.2 329.9,238.8 327.0,234.7 324.3,229.8 321.7,233.9 319.4,233.9 316.6,231.2 313.0,231.8 311.0,230.2 309.5,231.8 307.4,237.4 305.8,241.7 303.9,238.8 302.5,233.2 300.7,223.3 299.7,227.7 298.3,236.8 295.9,238.8 293.4,235.3 291.0,231.8 287.8,236.1 285.4,238.8 283.3,237.4 281.2,230.4 279.0,220.2 276.7,213.7 274.2,213.3 271.3,215.8 268.5,214.2 266.4,217.1 264.3,215.8 261.5,210.1 260.1,210.8 258.7,217.8 257.3,229.1 255.9,238.6 253.1,236.1 248.9,238.8 245.4,237.2 241.2,238.6 238.4,234.7 237.4,224.8 236.7,210.8 236.3,186.8 235.2,175.2 235.0,173.8 233.8,165.3 233.0,162.3 232.0,159.0 231.0,155.5 230.5,154.0 229.0,148.0 226.9,145.9 225.0,147.1 223.0,152.5 221.1,162.4 221.0,164.4 220.2,181.0 219.7,190.8 219.5,192.7 218.8,199.8 217.3,203.8 215.9,206.6 213.8,217.8 211.7,230.4 209.6,233.9 208.0,232.6 206.5,221.9 205.1,205.2 204.0,186.8 203.3,205.2 203.0,208.1 201.9,219.2 199.8,230.3 197.0,234.6 196.3,234.4 194.8,229.9 192.2,220.8 190.0,226.3 189.9,226.6 187.7,233.0 185.0,231.9 181.4,231.4 179.5,229.0 179.3,228.8 177.5,222.1 176.0,225.5 175.8,225.9 173.7,234.4 171.2,238.3 168.1,233.1 164.6,225.2 161.5,218.2 157.6,225.2 154.1,230.4 150.6,226.8 147.1,230.9 143.6,225.9 141.5,223.2 139.4,224.6 138.0,228.8 136.1,239.3 133.8,240.8 131.0,239.3 128.1,234.4 126.0,232.8 123.2,241.4 121.8,235.8 120.4,232.3 117.6,240.8 116.0,242.6 114.1,241.4 111.3,242.8"/>
<polygon fill="#e8d230" points="111.3,241.9 114.1,240.5 116.0,241.6 117.6,239.8 120.4,231.4 121.8,234.8 123.2,240.5 126.0,231.8 128.1,233.5 131.0,238.4 133.8,239.8 136.1,238.4 138.0,227.8 139.4,223.6 141.5,222.2 143.6,225.0 147.1,230.0 150.6,225.8 154.1,229.5 157.6,224.3 161.5,217.3 164.6,224.3 168.1,232.1 171.2,237.4 173.7,233.5 175.8,225.0 176.0,224.5 177.5,221.1 179.3,226.2 179.5,226.3 181.4,227.0 185.0,227.5 187.7,228.8 189.9,223.6 190.0,223.4 192.2,218.5 194.8,226.8 196.3,230.6 197.0,230.6 199.8,228.0 201.9,218.0 203.0,207.1 203.3,204.2 204.0,185.8 205.1,204.2 206.5,221.0 208.0,231.6 209.6,233.0 211.7,229.5 213.8,216.8 215.9,205.6 217.3,202.8 218.8,198.8 219.5,191.8 219.7,189.8 220.2,179.9 221.0,163.1 221.1,161.1 223.0,149.8 225.0,143.1 226.9,141.0 229.0,144.2 230.5,151.4 231.0,153.2 232.0,157.1 233.0,160.9 233.8,164.1 235.0,172.8 235.2,174.3 236.3,185.8 236.7,209.8 237.4,223.8 238.4,233.7 241.2,237.6 245.4,236.2 248.9,237.8 253.1,235.1 255.9,237.6 257.3,228.1 258.7,216.8 260.1,209.8 261.5,209.1 264.3,214.8 266.4,216.1 268.5,213.3 271.3,214.8 274.2,212.4 276.7,212.7 279.0,219.3 281.2,229.5 283.3,236.5 285.4,237.8 287.8,235.1 291.0,230.8 293.4,234.4 295.9,237.8 298.3,235.8 299.7,226.7 300.7,222.4 302.5,232.3 303.9,237.8 305.8,240.7 307.4,236.5 309.5,230.8 311.0,229.2 313.0,230.8 316.6,230.2 319.4,233.0 321.7,233.0 324.3,228.8 327.0,233.7 329.9,237.8 331.6,239.3 333.8,235.8 335.2,223.8 336.0,209.8 336.6,200.8 337.6,195.3 338.8,193.8 340.2,197.8 341.2,203.8 341.9,211.8 342.9,220.3 344.6,223.8 347.4,224.6 349.8,224.6 352.3,227.4 354.8,228.8 358.0,225.3 361.4,221.8 364.2,223.8 366.4,225.3 369.2,221.8 372.0,216.8 374.1,211.5 375.9,216.8 377.6,223.8 379.7,231.6 381.8,235.1 383.5,235.3 387.0,232.3 390.1,230.8 391.9,219.6 393.7,212.6 395.4,221.0 397.5,232.3 400.3,237.2 403.8,240.0 406.6,240.7 409.5,237.2 412.3,231.0 415.0,227.2 417.9,228.1 420.7,234.4 423.5,237.9 425.0,235.4 427.0,232.3 430.5,225.3 434.0,218.9 436.1,223.8 438.2,230.8 441.0,234.4 444.5,236.5 447.3,237.6 449.4,232.3 450.5,237.8 451.8,238.6 452.7,223.8 453.4,209.8 454.2,195.8 455.0,191.8 458.5,185.8 460.0,191.8 460.6,195.8 461.3,209.8 462.5,223.8 463.5,229.5 465.6,224.6 468.4,220.3 471.9,219.6 474.7,215.4 477.1,211.2 479.2,207.0 480.3,212.6 482.0,219.6 484.1,222.4 486.2,221.8 488.3,228.1 490.4,228.8 493.2,225.3 495.3,232.3 497.4,239.3 499.1,241.0 501.6,237.8 503.8,234.4 506.6,237.8 510.0,240.0 513.6,238.6 517.1,235.1 519.9,238.6 522.4,240.7 524.8,238.6 527.6,241.4 530.0,242.8 533.2,241.4 536.7,238.6 538.8,240.7 540.9,240.0 543.0,235.1 545.1,228.1 547.2,221.8 548.6,226.0 550.0,229.7 550.7,231.6 552.8,234.5 555.0,231.8 556.6,231.5 557.4,225.2 558.2,230.9 558.5,231.1 560.0,232.0 560.1,232.0 562.7,229.4 562.8,229.2 565.6,225.0 567.7,224.2 568.8,222.4 569.6,216.7 570.2,215.2 574.0,213.3 577.6,211.9 578.0,205.5 578.4,201.0 579.0,197.4 579.4,193.8 580.5,194.7 582.0,194.9 582.8,188.2 583.6,178.0 584.4,165.9 585.0,153.9 585.1,151.9 585.9,135.8 586.0,138.4 586.6,153.8 587.0,163.1 587.2,167.8 587.9,181.8 588.6,195.8 589.5,209.8 590.2,214.0 592.3,218.2 595.0,223.8 598.6,228.8 602.0,233.0 605.6,235.1 608.4,233.7 611.6,226.0 614.0,231.6 616.8,235.1 620.3,230.2 623.4,224.6 625.9,229.5 628.7,233.7 630.1,226.7 631.5,221.8 634.3,226.0 637.8,230.8 641.3,234.8 643.5,231.6 645.1,228.1 647.0,232.3 649.1,239.6 651.9,242.1 654.7,241.1 656.5,236.5 657.5,223.8 658.5,209.8 659.3,195.8 660.1,191.8 662.0,194.3 664.6,198.3 668.5,204.8 671.1,212.7 673.7,223.1 675.8,230.8 676.3,231.8 676.3,232.3 675.8,231.3 673.7,223.7 671.1,213.2 668.5,205.3 664.6,198.8 662.0,194.8 660.1,192.3 659.3,196.3 658.5,210.3 657.5,224.3 656.5,237.0 654.7,241.7 651.9,242.7 649.1,240.2 647.0,232.8 645.1,228.7 643.5,232.2 641.3,235.3 637.8,231.3 634.3,226.5 631.5,222.3 630.1,227.2 628.7,234.2 625.9,230.0 623.4,225.2 620.3,230.8 616.8,235.7 614.0,232.2 611.6,226.5 608.4,234.2 605.6,235.7 602.0,233.5 598.6,229.3 595.0,224.3 592.3,218.8 590.2,214.5 589.5,210.3 588.6,196.3 587.9,182.3 587.2,168.3 587.0,163.7 586.6,154.4 586.0,139.0 585.9,136.4 585.1,152.5 585.0,154.5 584.4,166.5 583.6,178.5 582.8,188.9 582.0,196.1 580.5,196.3 579.4,195.5 579.0,198.6 578.4,201.9 578.0,206.8 577.6,214.3 574.0,215.4 570.2,217.0 569.6,218.3 568.8,223.6 567.7,225.3 565.6,226.2 562.8,230.2 562.7,230.4 560.1,233.0 560.0,232.9 558.5,231.9 558.2,231.8 557.4,226.0 556.6,232.2 555.0,232.4 552.8,235.1 550.7,232.2 550.0,230.3 548.6,226.5 547.2,222.3 545.1,228.7 543.0,235.7 540.9,240.5 538.8,241.2 536.7,239.2 533.2,241.9 530.0,243.3 527.6,241.9 524.8,239.2 522.4,241.2 519.9,239.2 517.1,235.7 513.6,239.2 510.0,240.5 506.6,238.3 503.8,234.9 501.6,238.3 499.1,241.5 497.4,239.8 495.3,232.8 493.2,225.8 490.4,229.3 488.3,228.7 486.2,222.3 484.1,222.9 482.0,220.2 480.3,213.2 479.2,207.5 477.1,211.8 474.7,215.9 471.9,220.2 468.4,220.8 465.6,225.2 463.5,230.0 462.5,224.3 461.3,210.3 460.6,196.3 460.0,192.3 458.5,186.3 455.0,192.3 454.2,196.3 453.4,210.3 452.7,224.3 451.8,239.2 450.5,238.3 449.4,232.8 447.3,238.2 444.5,237.0 441.0,234.9 438.2,231.3 436.1,224.3 434.0,219.4 430.5,225.8 427.0,232.8 425.0,236.0 423.5,238.5 420.7,235.1 417.9,229.1 415.0,228.3 412.3,231.9 409.5,237.8 406.6,241.2 403.8,240.5 400.3,237.8 397.5,232.8 395.4,221.5 393.7,213.2 391.9,220.2 390.1,231.3 387.0,232.8 383.5,235.8 381.8,235.7 379.7,232.2 377.6,224.3 375.9,217.3 374.1,212.0 372.0,217.3 369.2,222.3 366.4,225.8 364.2,224.3 361.4,222.3 358.0,225.8 354.8,229.3 352.3,227.9 349.8,225.2 347.4,225.2 344.6,224.3 342.9,220.8 341.9,212.3 341.2,204.3 340.2,198.3 338.8,194.3 337.6,195.8 336.6,201.3 336.0,210.3 335.2,224.3 333.8,236.3 331.6,239.8 329.9,238.3 327.0,234.2 324.3,229.3 321.7,233.5 319.4,233.5 316.6,230.8 313.0,231.3 311.0,229.8 309.5,231.3 307.4,237.0 305.8,241.2 303.9,238.3 302.5,232.8 300.7,222.9 299.7,227.2 298.3,236.3 295.9,238.3 293.4,234.9 291.0,231.3 287.8,235.7 285.4,238.3 283.3,237.0 281.2,230.0 279.0,219.8 276.7,213.2 274.2,212.9 271.3,215.3 268.5,213.8 266.4,216.7 264.3,215.3 261.5,209.7 260.1,210.3 258.7,217.3 257.3,228.7 255.9,238.2 253.1,235.7 248.9,238.3 245.4,236.8 241.2,238.2 238.4,234.2 237.4,224.3 236.7,210.3 236.3,186.3 235.2,174.8 235.0,173.4 233.8,164.7 233.0,161.6 232.0,157.9 231.0,154.0 230.5,152.3 229.0,145.4 226.9,142.5 225.0,144.3 223.0,150.8 221.1,161.7 221.0,163.8 220.2,180.5 219.7,190.4 219.5,192.3 218.8,199.3 217.3,203.3 215.9,206.2 213.8,217.3 211.7,230.0 209.6,233.5 208.0,232.2 206.5,221.5 205.1,204.8 204.0,186.3 203.3,204.8 203.0,207.7 201.9,218.6 199.8,228.9 197.0,231.9 196.3,231.8 194.8,227.8 192.2,219.4 190.0,224.4 189.9,224.7 187.7,230.1 185.0,228.8 181.4,228.3 179.5,227.3 179.3,227.2 177.5,221.7 176.0,225.1 175.8,225.5 173.7,234.0 171.2,237.9 168.1,232.7 164.6,224.8 161.5,217.8 157.6,224.8 154.1,230.0 150.6,226.3 147.1,230.5 143.6,225.5 141.5,222.8 139.4,224.2 138.0,228.3 136.1,238.9 133.8,240.3 131.0,238.9 128.1,234.0 126.0,232.3 123.2,241.0 121.8,235.3 120.4,231.9 117.6,240.3 116.0,242.2 114.1,241.0 111.3,242.4"/>
<polygon fill="#f781bf" points="111.3,241.7 114.1,240.3 116.0,241.4 117.6,239.6 120.4,231.2 121.8,234.6 123.2,240.3 126.0,231.6 128.1,233.3 131.0,238.2 133.8,239.6 136.1,238.2 138.0,227.6 139.4,223.4 141.5,222.0 143.6,224.8 147.1,229.8 150.6,225.6 154.1,229.3 157.6,224.1 161.5,217.1 164.6,224.1 168.1,231.9 171.2,237.2 173.7,233.3 175.8,224.8 176.0,224.4 177.5,221.0 179.3,224.6 179.5,224.6 181.4,223.6 185.0,224.1 187.7,225.7 189.9,221.7 190.0,221.5 192.2,217.1 194.8,224.6 196.3,228.0 197.0,227.7 199.8,226.6 201.9,217.6 203.0,207.0 203.3,204.0 204.0,185.6 205.1,204.0 206.5,220.8 208.0,231.4 209.6,232.8 211.7,229.3 213.8,216.6 215.9,205.4 217.3,202.6 218.8,198.6 219.5,191.6 219.7,189.7 220.2,179.7 221.0,162.8 221.1,160.7 223.0,148.0 225.0,140.2 226.9,137.3 229.0,141.5 230.5,149.7 231.0,151.8 232.0,156.2 233.0,160.3 233.8,163.7 235.0,172.7 235.2,174.1 236.3,185.6 236.7,209.6 237.4,223.6 238.4,233.5 241.2,237.4 245.4,236.0 248.9,237.6 253.1,234.9 255.9,237.4 257.3,227.9 258.7,216.6 260.1,209.6 261.5,208.9 264.3,214.6 266.4,215.9 268.5,213.1 271.3,214.6 274.2,212.2 276.7,212.5 279.0,219.1 281.2,229.3 283.3,236.3 285.4,237.6 287.8,234.9 291.0,230.6 293.4,234.2 295.9,237.6 298.3,235.6 299.7,226.5 300.7,222.2 302.5,232.1 303.9,237.6 305.8,240.5 307.4,236.3 309.5,230.6 311.0,229.0 313.0,230.6 316.6,230.0 319.4,232.8 321.7,232.8 324.3,228.6 327.0,233.5 329.9,237.6 331.6,239.1 333.8,235.6 335.2,223.6 336.0,209.6 336.6,200.6 337.6,195.1 338.8,193.6 340.2,197.6 341.2,203.6 341.9,211.6 342.9,220.1 344.6,223.6 347.4,224.4 349.8,224.4 352.3,227.2 354.8,228.6 358.0,225.1 361.4,221.6 364.2,223.6 366.4,225.1 369.2,221.6 372.0,216.6 374.1,211.3 375.9,216.6 377.6,223.6 379.7,231.4 381.8,234.9 383.5,235.1 387.0,232.1 390.1,230.6 391.9,219.4 393.7,212.4 395.4,220.8 397.5,232.1 400.3,237.0 403.8,239.8 406.6,240.5 409.5,237.0 412.3,229.6 415.0,224.8 417.9,226.2 420.7,233.6 423.5,237.6 425.0,235.3 427.0,232.1 430.5,225.1 434.0,218.7 436.1,223.6 438.2,230.6 441.0,234.2 444.5,236.3 447.3,237.4 449.4,232.1 450.5,237.6 451.8,238.4 452.7,223.6 453.4,209.6 454.2,195.6 455.0,191.6 458.5,185.6 460.0,191.6 460.6,195.6 461.3,209.6 462.5,223.6 463.5,229.3 465.6,224.4 468.4,220.1 471.9,219.4 474.7,215.2 477.1,211.0 479.2,206.8 480.3,212.4 482.0,219.4 484.1,222.2 486.2,221.6 488.3,227.9 490.4,228.6 493.2,225.1 495.3,232.1 497.4,239.1 499.1,240.8 501.6,237.6 503.8,234.2 506.6,237.6 510.0,239.8 513.6,238.4 517.1,234.9 519.9,238.4 522.4,240.5 524.8,238.4 527.6,241.2 530.0,242.6 533.2,241.2 536.7,238.4 538.8,240.5 540.9,239.8 543.0,234.9 545.1,227.9 547.2,221.6 548.6,225.8 550.0,229.6 550.7,231.5 552.8,234.3 555.0,231.4 556.6,230.7 557.4,224.2 558.2,229.6 558.5,229.7 560.0,230.1 560.1,230.2 562.7,227.6 562.8,227.5 565.6,222.2 567.7,221.7 568.8,219.7 569.6,212.6 570.2,210.0 574.0,207.0 577.6,204.6 578.0,202.1 578.4,199.6 579.0,194.7 579.4,189.1 580.5,190.6 582.0,192.2 582.8,187.7 583.6,177.6 584.4,165.6 585.0,153.7 585.1,151.7 585.9,135.7 586.0,138.2 586.6,153.7 587.0,163.0 587.2,167.6 587.9,181.6 588.6,195.6 589.5,209.6 590.2,213.8 592.3,218.0 595.0,223.6 598.6,228.6 602.0,232.8 605.6,234.9 608.4,233.5 611.6,225.8 614.0,231.4 616.8,234.9 620.3,230.0 623.4,224.4 625.9,229.3 628.7,233.5 630.1,226.5 631.5,221.6 634.3,225.8 637.8,230.6 641.3,234.6 643.5,231.4 645.1,227.9 647.0,232.1 649.1,239.4 651.9,241.9 654.7,240.9 656.5,236.3 657.5,223.6 658.5,209.6 659.3,195.6 660.1,191.6 662.0,194.1 664.6,198.1 668.5,204.6 671.1,212.5 673.7,222.9 675.8,230.6 676.3,231.6 676.3,231.8 675.8,230.8 673.7,223.1 671.1,212.7 668.5,204.8 664.6,198.3 662.0,194.3 660.1,191.8 659.3,195.8 658.5,209.8 657.5,223.8 656.5,236.5 654.7,241.1 651.9,242.1 649.1,239.6 647.0,232.3 645.1,228.1 643.5,231.6 641.3,234.8 637.8,230.8 634.3,226.0 631.5,221.8 630.1,226.7 628.7,233.7 625.9,229.5 623.4,224.6 620.3,230.2 616.8,235.1 614.0,231.6 611.6,226.0 608.4,233.7 605.6,235.1 602.0,233.0 598.6,228.8 595.0,223.8 592.3,218.2 590.2,214.0 589.5,209.8 588.6,195.8 587.9,181.8 587.2,167.8 587.0,163.1 586.6,153.8 586.0,138.4 585.9,135.8 585.1,151.9 585.0,153.9 584.4,165.9 583.6,178.0 582.8,188.2 582.0,194.9 580.5,194.7 579.4,193.8 579.0,197.4 578.4,201.0 578.0,205.5 577.6,211.9 574.0,213.3 570.2,215.2 569.6,216.7 568.8,222.4 567.7,224.2 565.6,225.0 562.8,229.2 562.7,229.4 560.1,232.0 560.0,232.0 558.5,231.1 558.2,230.9 557.4,225.2 556.6,231.5 555.0,231.8 552.8,234.5 550.7,231.6 550.0,229.7 548.6,226.0 547.2,221.8 545.1,228.1 543.0,235.1 540.9,240.0 538.8,240.7 536.7,238.6 533.2,241.4 530.0,242.8 527.6,241.4 524.8,238.6 522.4,240.7 519.9,238.6 517.1,235.1 513.6,238.6 510.0,240.0 506.6,237.8 503.8,234.4 501.6,237.8 499.1,241.0 497.4,239.3 495.3,232.3 493.2,225.3 490.4,228.8 488.3,228.1 486.2,221.8 484.1,222.4 482.0,219.6 480.3,212.6 479.2,207.0 477.1,211.2 474.7,215.4 471.9,219.6 468.4,220.3 465.6,224.6 463.5,229.5 462.5,223.8 461.3,209.8 460.6,195.8 460.0,191.8 458.5,185.8 455.0,191.8 454.2,195.8 453.4,209.8 452.7,223.8 451.8,238.6 450.5,237.8 449.4,232.3 447.3,237.6 444.5,236.5 441.0,234.4 438.2,230.8 436.1,223.8 434.0,218.9 430.5,225.3 427.0,232.3 425.0,235.4 423.5,237.9 420.7,234.4 417.9,228.1 415.0,227.2 412.3,231.0 409.5,237.2 406.6,240.7 403.8,240.0 400.3,237.2 397.5,232.3 395.4,221.0 393.7,212.6 391.9,219.6 390.1,230.8 387.0,232.3 383.5,235.3 381.8,235.1 379.7,231.6 377.6,223.8 375.9,216.8 374.1,211.5 372.0,216.8 369.2,221.8 366.4,225.3 364.2,223.8 361.4,221.8 358.0,225.3 354.8,228.8 352.3,227.4 349.8,224.6 347.4,224.6 344.6,223.8 342.9,220.3 341.9,211.8 341.2,203.8 340.2,197.8 338.8,193.8 337.6,195.3 336.6,200.8 336.0,209.8 335.2,223.8 333.8,235.8 331.6,239.3 329.9,237.8 327.0,233.7 324.3,228.8 321.7,233.0 319.4,233.0 316.6,230.2 313.0,230.8 311.0,229.2 309.5,230.8 307.4,236.5 305.8,240.7 303.9,237.8 302.5,232.3 300.7,222.4 299.7,226.7 298.3,235.8 295.9,237.8 293.4,234.4 291.0,230.8 287.8,235.1 285.4,237.8 283.3,236.5 281.2,229.5 279.0,219.3 276.7,212.7 274.2,212.4 271.3,214.8 268.5,213.3 266.4,216.1 264.3,214.8 261.5,209.1 260.1,209.8 258.7,216.8 257.3,228.1 255.9,237.6 253.1,235.1 248.9,237.8 245.4,236.2 241.2,237.6 238.4,233.7 237.4,223.8 236.7,209.8 236.3,185.8 235.2,174.3 235.0,172.8 233.8,164.1 233.0,160.9 232.0,157.1 231.0,153.2 230.5,151.4 229.0,144.2 226.9,141.0 225.0,143.1 223.0,149.8 221.1,161.1 221.0,163.1 220.2,179.9 219.7,189.8 219.5,191.8 218.8,198.8 217.3,202.8 215.9,205.6 213.8,216.8 211.7,229.5 209.6,233.0 208.0,231.6 206.5,221.0 205.1,204.2 204.0,185.8 203.3,204.2 203.0,207.1 201.9,218.0 199.8,228.0 197.0,230.6 196.3,230.6 194.8,226.8 192.2,218.5 190.0,223.4 189.9,223.6 187.7,228.8 185.0,227.5 181.4,227.0 179.5,226.3 179.3,226.2 177.5,221.1 176.0,224.5 175.8,225.0 173.7,233.5 171.2,237.4 168.1,232.1 164.6,224.3 161.5,217.3 157.6,224.3 154.1,229.5 150.6,225.8 147.1,230.0 143.6,225.0 141.5,222.2 139.4,223.6 138.0,227.8 136.1,238.4 133.8,239.8 131.0,238.4 128.1,233.5 126.0,231.8 123.2,240.5 121.8,234.8 120.4,231.4 117.6,239.8 116.0,241.6 114.1,240.5 111.3,241.9"/>
<polyline fill="none" stroke="#e9a43c" stroke-opacity="0.85" stroke-width="0.85" stroke-linejoin="round" points="111.3,242.7 114.1,241.2 116.0,242.4 117.6,240.6 120.4,232.2 121.8,235.6 123.2,241.2 126.0,232.6 128.1,234.2 131.0,239.2 133.8,240.6 136.1,239.2 138.0,228.6 139.4,224.4 141.5,223.0 143.6,225.8 147.1,230.8 150.6,226.6 154.1,230.2 157.6,225.1 161.5,218.1 164.6,225.1 168.1,232.9 171.2,238.2 173.7,234.2 175.8,225.8 176.0,225.3 177.5,221.9"/>
<polyline fill="none" stroke="#e9a43c" stroke-opacity="0.85" stroke-width="0.85" stroke-linejoin="round" points="203.0,207.9 203.3,205.0 204.0,186.6 205.1,205.0 206.5,221.8 208.0,232.4 209.6,233.8 211.7,230.2 213.8,217.6 215.9,206.4 217.3,203.6 218.8,199.6 219.5,192.5 219.7,190.6 220.2,180.6"/>
<polyline fill="none" stroke="#e9a43c" stroke-opacity="0.85" stroke-width="0.85" stroke-linejoin="round" points="235.0,173.6 235.2,175.1 236.3,186.6 236.7,210.6 237.4,224.6 238.4,234.5 241.2,238.4 245.4,237.0 248.9,238.6 253.1,235.9 255.9,238.4 257.3,228.9 258.7,217.6 260.1,210.6 261.5,209.9 264.3,215.6 266.4,216.9 268.5,214.1 271.3,215.6 274.2,213.2 276.7,213.5 279.0,220.1 281.2,230.2 283.3,237.2 285.4,238.6 287.8,235.9 291.0,231.6 293.4,235.2 295.9,238.6 298.3,236.6 299.7,227.5 300.7,223.2 302.5,233.1 303.9,238.6 305.8,241.5 307.4,237.2 309.5,231.6 311.0,230.0 313.0,231.6 316.6,231.0 319.4,233.8 321.7,233.8 324.3,229.6 327.0,234.5 329.9,238.6 331.6,240.1 333.8,236.6 335.2,224.6 336.0,210.6 336.6,201.6 337.6,196.1 338.8,194.6 340.2,198.6 341.2,204.6 341.9,212.6 342.9,221.1 344.6,224.6 347.4,225.4 349.8,225.4 352.3,228.2 354.8,229.6 358.0,226.1 361.4,222.6 364.2,224.6 366.4,226.1 369.2,222.6 372.0,217.6 374.1,212.2 375.9,217.6 377.6,224.6 379.7,232.4 381.8,235.9 383.5,236.1 387.0,233.1 390.1,231.6 391.9,220.4 393.7,213.4 395.4,221.8 397.5,233.1 400.3,238.0 403.8,240.8 406.6,241.5 409.5,238.0"/>
<polyline fill="none" stroke="#e9a43c" stroke-opacity="0.85" stroke-width="0.85" stroke-linejoin="round" points="423.5,238.6 425.0,236.2 427.0,233.1 430.5,226.1 434.0,219.7 436.1,224.6 438.2,231.6 441.0,235.2 444.5,237.2 447.3,238.4 449.4,233.1 450.5,238.6 451.8,239.4 452.7,224.6 453.4,210.6 454.2,196.6 455.0,192.6 458.5,186.6 460.0,192.6 460.6,196.6 461.3,210.6 462.5,224.6 463.5,230.2 465.6,225.4 468.4,221.1 471.9,220.4 474.7,216.2 477.1,212.0 479.2,207.8 480.3,213.4 482.0,220.4 484.1,223.2 486.2,222.6 488.3,228.9 490.4,229.6 493.2,226.1 495.3,233.1 497.4,240.1 499.1,241.8 501.6,238.6 503.8,235.2 506.6,238.6 510.0,240.8 513.6,239.4 517.1,235.9 519.9,239.4 522.4,241.5 524.8,239.4 527.6,242.2 530.0,243.6 533.2,242.2 536.7,239.4 538.8,241.5 540.9,240.8 543.0,235.9 545.1,228.9 547.2,222.6 548.6,226.8 550.0,230.5 550.7,232.4 552.8,235.2"/>
<polyline fill="none" stroke="#e9a43c" stroke-opacity="0.85" stroke-width="0.85" stroke-linejoin="round" points="584.4,166.6 585.0,154.6 585.1,152.6 585.9,136.6 586.0,139.1 586.6,154.6 587.0,163.9 587.2,168.6 587.9,182.6 588.6,196.6 589.5,210.6 590.2,214.8 592.3,219.0 595.0,224.6 598.6,229.6 602.0,233.8 605.6,235.9 608.4,234.5 611.6,226.8 614.0,232.4 616.8,235.9 620.3,231.0 623.4,225.4 625.9,230.2 628.7,234.5 630.1,227.5 631.5,222.6 634.3,226.8 637.8,231.6 641.3,235.6 643.5,232.4 645.1,228.9 647.0,233.1 649.1,240.4 651.9,242.9 654.7,241.9 656.5,237.2 657.5,224.6 658.5,210.6 659.3,196.6 660.1,192.6 662.0,195.1 664.6,199.1 668.5,205.6 671.1,213.5 673.7,223.9 675.8,231.6 676.3,232.6"/>
<polyline fill="none" stroke="#000" stroke-width="2.0" stroke-linejoin="round" stroke-linecap="butt" points="111.3,237.2 112.7,233.7 114.1,231.6 115.6,234.2 117.2,229.3 119.0,214.0 121.4,204.0 122.6,218.0 123.6,229.3 124.6,222.0 126.0,213.7 128.1,218.2 130.2,227.3 132.3,230.9 134.5,231.1 136.1,228.0 137.5,212.0 138.7,202.8 139.4,198.6 141.7,197.2 143.6,202.2 145.7,209.9 147.5,213.1 149.6,205.0 151.3,206.4 154.1,212.0 156.9,204.3 159.7,193.0 161.8,190.0 163.9,193.7 166.0,205.0 168.8,209.9 170.2,216.9 172.0,223.2 173.7,215.5 175.8,198.6 177.9,193.7 180.5,202.2 182.8,195.1 185.2,189.5 187.7,195.1 189.9,193.0 192.2,184.3 194.8,188.8 196.3,202.3 199.1,201.6 200.1,196.0 200.9,182.0 201.9,161.0 202.9,140.0 204.0,113.4 205.4,140.0 206.5,154.0 207.3,168.0 207.8,186.3 208.2,196.0 208.5,210.0 208.9,219.8 211.0,218.4 212.4,207.2 214.0,196.0 215.0,175.0 215.7,166.6 217.1,170.0 218.0,156.8 218.8,146.0 219.7,125.1 221.1,112.4 223.0,103.3 224.8,98.4 227.2,97.3 229.3,101.2 232.1,105.4 233.8,113.8 234.9,125.1 235.6,138.0 236.0,154.0 236.6,175.0 237.0,196.0 237.7,207.2 239.1,221.2 241.2,229.7 243.3,229.0 246.1,227.1 248.9,229.7 251.7,226.9 253.8,224.0 255.6,229.7 257.0,217.0 258.3,204.4 259.7,192.0 260.8,187.0 262.9,194.8 265.0,194.0 267.1,189.8 269.7,193.3 272.7,194.0 275.0,192.5 277.0,189.4 279.0,195.0 281.2,207.2 283.3,219.8 285.4,227.3 287.8,221.2 291.0,214.0 293.4,219.1 295.9,226.9 298.3,226.2 299.4,210.0 300.7,194.5 302.1,204.4 303.2,219.8 304.6,231.0 305.8,236.0 307.4,228.3 308.8,221.2 310.2,217.7 312.3,222.0 314.5,219.8 316.6,218.2 319.4,222.6 321.7,222.6 324.3,215.0 326.4,221.2 329.2,228.3 331.3,233.2 333.4,228.3 334.8,214.2 335.8,198.0 336.9,175.0 337.6,165.0 338.5,154.9 339.8,165.0 341.0,175.0 342.8,196.0 343.9,201.6 345.3,206.5 347.4,207.0 349.8,205.8 352.3,209.3 354.8,211.7 357.2,208.0 359.3,203.0 361.9,199.5 364.2,204.4 366.4,208.0 369.2,204.4 371.3,199.0 372.7,193.0 374.1,185.6 375.6,193.0 376.9,197.0 378.3,204.4 379.7,214.2 381.1,221.2 383.5,222.0 387.0,217.7 389.8,217.7 391.2,207.2 392.3,199.0 393.7,196.6 395.1,198.5 396.5,204.4 398.2,218.4 400.3,227.6 402.4,229.7 404.5,232.7 406.6,232.7 408.0,226.9 410.2,212.8 413.0,200.9 415.0,198.8 417.9,199.5 420.0,205.8 423.5,214.9 426.3,211.4 429.1,206.5 432.6,200.9 435.1,198.1 436.8,204.4 438.2,214.2 440.3,224.0 442.4,225.5 445.2,228.3 447.0,229.7 448.0,224.0 449.4,218.4 450.1,226.9 451.2,233.2 452.2,224.0 452.9,210.0 453.4,190.0 453.6,168.0 455.2,162.3 456.8,156.4 458.5,153.1 460.8,158.0 461.9,170.2 462.5,196.0 462.9,207.2 463.5,217.7 464.9,211.4 467.0,204.4 469.8,200.2 472.6,200.9 474.2,196.5 476.0,190.0 478.0,182.8 479.8,178.2 481.3,196.0 482.7,203.0 484.5,206.5 486.5,204.4 488.3,214.2 489.7,218.4 491.8,215.6 493.7,208.0 495.3,217.0 497.4,228.3 499.1,234.1 500.9,233.2 502.3,225.5 503.8,222.6 505.9,228.3 508.0,233.2 510.8,233.9 513.6,231.0 517.1,225.5 519.2,229.7 522.0,236.0 524.4,231.8 526.9,236.7 529.7,239.5 532.5,238.0 534.6,236.0 536.7,231.8 538.8,233.9 540.9,233.9 543.0,227.6 544.4,217.0 545.8,207.2 547.2,200.2 548.2,196.5 550.0,207.2 551.4,214.2 553.3,217.7 555.2,214.2 556.6,200.0 557.5,180.7 558.6,200.0 559.9,210.0 562.0,202.0 563.5,196.0 564.5,190.5 567.3,189.8 568.5,182.0 569.2,166.6 571.6,161.0 573.7,153.7 575.7,156.0 577.0,148.0 578.2,138.5 578.9,134.2 579.6,143.0 580.4,148.0 581.4,152.8 582.4,137.0 583.5,118.0 584.6,88.0 585.3,62.0 586.0,40.6 587.0,68.0 588.0,90.0 588.4,115.0 588.9,140.0 589.7,154.0 590.4,168.0 591.3,182.0 592.4,196.0 594.4,203.0 596.7,211.4 600.0,217.0 602.8,224.8 605.6,227.6 607.7,226.2 609.8,217.0 612.2,208.6 614.0,219.8 616.4,226.2 618.9,223.3 621.7,214.2 623.8,208.3 625.9,217.0 628.0,225.5 629.4,217.0 630.8,204.4 632.2,203.0 634.3,207.2 637.1,214.2 639.9,222.0 642.0,222.0 643.9,212.8 645.3,209.3 647.0,212.8 648.4,224.0 650.5,236.0 652.3,237.5 654.3,236.5 656.1,226.0 657.3,197.2 658.0,171.0 658.8,150.7 660.5,158.0 662.0,162.0 665.9,169.8 669.8,179.0 672.4,189.4 674.2,205.0 675.5,220.7 676.3,223.0"/>
<rect x="83.5" y="30.5" width="620.0" height="225.0" fill="none" stroke="#000" stroke-width="1.1"/>
<line x1="78.1" x2="83.5" y1="245.45" y2="245.45" stroke="#000" stroke-width="1.1"/>
<text x="74.4" y="250.50" text-anchor="end" class="t10">0</text>
<line x1="78.1" x2="83.5" y1="207.45" y2="207.45" stroke="#000" stroke-width="1.1"/>
<text x="74.4" y="212.32" text-anchor="end" class="t10">100</text>
<line x1="78.1" x2="83.5" y1="169.45" y2="169.45" stroke="#000" stroke-width="1.1"/>
<text x="74.4" y="174.14" text-anchor="end" class="t10">200</text>
<line x1="78.1" x2="83.5" y1="131.45" y2="131.45" stroke="#000" stroke-width="1.1"/>
<text x="74.4" y="135.96" text-anchor="end" class="t10">300</text>
<line x1="78.1" x2="83.5" y1="93.45" y2="93.45" stroke="#000" stroke-width="1.1"/>
<text x="74.4" y="97.78" text-anchor="end" class="t10">400</text>
<line x1="78.1" x2="83.5" y1="54.40" y2="54.40" stroke="#000" stroke-width="1.1"/>
<text x="74.4" y="59.60" text-anchor="end" class="t10">500</text>
<line x1="93.5" x2="93.5" y1="255.5" y2="260.5" stroke="#000" stroke-width="1.1"/>
<text transform="translate(90.7,275.1) rotate(-30)" text-anchor="end" class="t10">31-Oct-2017</text>
<line x1="150.0" x2="150.0" y1="255.5" y2="260.5" stroke="#000" stroke-width="1.1"/>
<text transform="translate(147.2,275.1) rotate(-30)" text-anchor="end" class="t10">03-Nov-2017</text>
<line x1="206.6" x2="206.6" y1="255.5" y2="260.5" stroke="#000" stroke-width="1.1"/>
<text transform="translate(203.8,275.1) rotate(-30)" text-anchor="end" class="t10">06-Nov-2017</text>
<line x1="263.2" x2="263.2" y1="255.5" y2="260.5" stroke="#000" stroke-width="1.1"/>
<text transform="translate(260.4,275.1) rotate(-30)" text-anchor="end" class="t10">09-Nov-2017</text>
<line x1="319.8" x2="319.8" y1="255.5" y2="260.5" stroke="#000" stroke-width="1.1"/>
<text transform="translate(317.0,275.1) rotate(-30)" text-anchor="end" class="t10">12-Nov-2017</text>
<line x1="376.4" x2="376.4" y1="255.5" y2="260.5" stroke="#000" stroke-width="1.1"/>
<text transform="translate(373.6,275.1) rotate(-30)" text-anchor="end" class="t10">15-Nov-2017</text>
<line x1="433.0" x2="433.0" y1="255.5" y2="260.5" stroke="#000" stroke-width="1.1"/>
<text transform="translate(430.2,275.1) rotate(-30)" text-anchor="end" class="t10">18-Nov-2017</text>
<line x1="489.6" x2="489.6" y1="255.5" y2="260.5" stroke="#000" stroke-width="1.1"/>
<text transform="translate(486.8,275.1) rotate(-30)" text-anchor="end" class="t10">21-Nov-2017</text>
<line x1="546.2" x2="546.2" y1="255.5" y2="260.5" stroke="#000" stroke-width="1.1"/>
<text transform="translate(543.4,275.1) rotate(-30)" text-anchor="end" class="t10">24-Nov-2017</text>
<line x1="602.8" x2="602.8" y1="255.5" y2="260.5" stroke="#000" stroke-width="1.1"/>
<text transform="translate(600.0,275.1) rotate(-30)" text-anchor="end" class="t10">27-Nov-2017</text>
<line x1="659.4" x2="659.4" y1="255.5" y2="260.5" stroke="#000" stroke-width="1.1"/>
<text transform="translate(656.6,275.1) rotate(-30)" text-anchor="end" class="t10">30-Nov-2017</text>
<text x="393.5" y="22.2" text-anchor="middle" class="t12">Source contribution to BC concentrations</text>
<g transform="translate(33.0,0) rotate(-90)" class="t14"><text x="-272.7" y="0">BC concentration</text><text x="-99.4" y="0">(ng m</text><text x="-41.9" y="-7.0" font-size="13.6">−3</text><text x="-21.1" y="0">)</text></g>
<rect x="83.50" y="345.5" width="77.80" height="47.0" fill="#c72a38"/>
<rect x="161.00" y="345.5" width="77.80" height="47.0" fill="#377eb8"/>
<rect x="238.50" y="345.5" width="77.80" height="47.0" fill="#6f8373"/>
<rect x="316.00" y="345.5" width="77.80" height="47.0" fill="#cb6354"/>
<rect x="393.50" y="345.5" width="77.80" height="47.0" fill="#e8d230"/>
<rect x="471.00" y="345.5" width="77.80" height="47.0" fill="#f781bf"/>
<rect x="548.50" y="345.5" width="77.80" height="47.0" fill="#9370db"/>
<rect x="626.00" y="345.5" width="77.80" height="47.0" fill="#000"/>
<text x="122.25" y="372.2" text-anchor="middle" class="t10" style="fill:#000">DOM</text>
<text x="199.75" y="372.2" text-anchor="middle" class="t10" style="fill:#000">ENE</text>
<text x="277.25" y="372.2" text-anchor="middle" class="t10" style="fill:#000">FLR</text>
<text x="354.75" y="372.2" text-anchor="middle" class="t10" style="fill:#000">IND</text>
<text x="432.25" y="372.2" text-anchor="middle" class="t10" style="fill:#000">SHP</text>
<text x="509.75" y="372.2" text-anchor="middle" class="t10" style="fill:#000">WST</text>
<text x="587.25" y="372.2" text-anchor="middle" class="t10" style="fill:#000">TRA</text>
<text x="664.75" y="372.2" text-anchor="middle" class="t10" style="fill:#fff">BB</text>
<rect x="83.5" y="345.5" width="620.0" height="47.0" fill="none" stroke="#000" stroke-width="1.1"/>
<line x1="83.50" x2="83.50" y1="392.5" y2="397.5" stroke="#000" stroke-width="1.1"/>
<line x1="161.00" x2="161.00" y1="392.5" y2="397.5" stroke="#000" stroke-width="1.1"/>
<line x1="238.50" x2="238.50" y1="392.5" y2="397.5" stroke="#000" stroke-width="1.1"/>
<line x1="316.00" x2="316.00" y1="392.5" y2="397.5" stroke="#000" stroke-width="1.1"/>
<line x1="393.50" x2="393.50" y1="392.5" y2="397.5" stroke="#000" stroke-width="1.1"/>
<line x1="471.00" x2="471.00" y1="392.5" y2="397.5" stroke="#000" stroke-width="1.1"/>
<line x1="548.50" x2="548.50" y1="392.5" y2="397.5" stroke="#000" stroke-width="1.1"/>
<line x1="626.00" x2="626.00" y1="392.5" y2="397.5" stroke="#000" stroke-width="1.1"/>
<line x1="703.50" x2="703.50" y1="392.5" y2="397.5" stroke="#000" stroke-width="1.1"/>
</svg>
</body></html>
